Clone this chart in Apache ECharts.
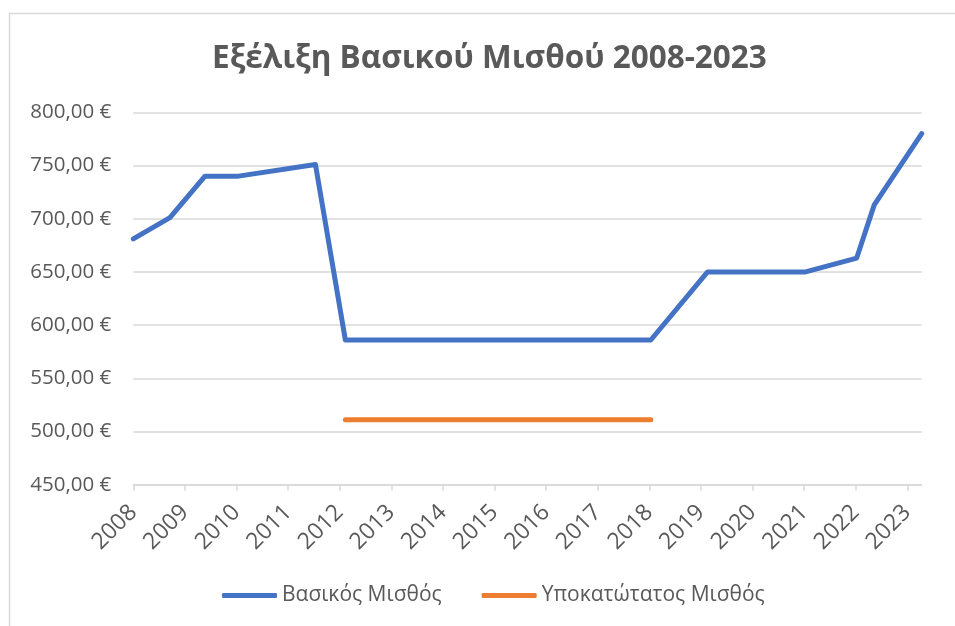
<!DOCTYPE html>
<html>
<head>
<meta charset="utf-8">
<script src="https://cdn.jsdelivr.net/npm/echarts@6/dist/echarts.min.js"></script>
<style>
html,body{margin:0;padding:0;background:#fff;}
#chart{width:955px;height:626px;}
</style>
</head>
<body>
<div id="chart"></div>
<script>
// Dates as fractional years
const basicYears  = [2008.0, 2008.71, 2009.39, 2010.04, 2011.53, 2012.11, 2018.03, 2019.13, 2021.03, 2022.02, 2022.36, 2023.28];
const basicValues = [681, 701, 740, 740, 751, 586, 586, 650, 650, 663, 713, 780];
const subYears    = [2012.11, 2018.03];
const subValues   = [511, 511];
const xTickYears  = [2008, 2009, 2010, 2011, 2012, 2013, 2014, 2015, 2016, 2017, 2018, 2019, 2020, 2021, 2022, 2023];
const yTicks      = [450, 500, 550, 600, 650, 700, 750, 800];
const seriesNames = ['Βασικός Μισθός', 'Υποκατώτατος Μισθός'];
const titleText   = 'Εξέλιξη Βασικού Μισθού 2008-2023';

const FONT = '"Open Sans", "Noto Sans", sans-serif';
const GREY = '#595959';

const chart = echarts.init(document.getElementById('chart'), null, {renderer: 'canvas'});
chart.setOption({
  animation: false,
  backgroundColor: '#ffffff',
  graphic: [{
    type: 'rect',
    shape: {x: 9.5, y: 13.5, width: 1000, height: 700},
    style: {fill: 'none', stroke: '#d9d9d9', lineWidth: 1.5},
    silent: true, z: -1
  }],
  title: {
    text: titleText,
    left: 207,
    top: 38,
    textStyle: {fontFamily: FONT, fontWeight: 'bold', fontSize: 31.5, color: GREY}
  },
  legend: {
    bottom: 15,
    left: 217,
    itemWidth: 55,
    itemHeight: 5,
    itemGap: 40,
    icon: 'roundRect',
    textStyle: {fontFamily: FONT, fontSize: 21, color: GREY},
    data: seriesNames
  },
  grid: {left: 133.3, right: 33.3, top: 112.3, bottom: 141.3, containLabel: false},
  xAxis: {
    type: 'value',
    min: xTickYears[0],
    max: basicYears[basicYears.length - 1],
    interval: 1,
    splitLine: {show: false},
    axisLine: {lineStyle: {color: '#d9d9d9', width: 1.5}},
    axisTick: {show: true, length: 6, lineStyle: {color: '#d9d9d9', width: 1.5},
      customValues: xTickYears},
    axisLabel: {
      rotate: 45, margin: 24,
      fontFamily: FONT, fontSize: 23, color: GREY,
      customValues: xTickYears,
      hideOverlap: false,
      formatter: v => Number.isInteger(v) ? String(v) : ''
    }
  },
  yAxis: {
    type: 'value',
    min: yTicks[0],
    max: yTicks[yTicks.length - 1],
    interval: 50,
    axisLine: {show: false},
    axisTick: {show: false},
    splitLine: {lineStyle: {color: '#d9d9d9', width: 1.5}},
    axisLabel: {
      margin: 22,
      fontFamily: FONT, fontSize: 20.5, color: GREY,
      formatter: v => v.toFixed(2).replace('.', ',') + ' €'
    }
  },
  series: [
    {
      name: seriesNames[0],
      type: 'line',
      symbol: 'none',
      data: basicYears.map((x, i) => [x, basicValues[i]]),
      lineStyle: {color: '#4472C4', width: 5, cap: 'round', join: 'round'},
      itemStyle: {color: '#4472C4'}
    },
    {
      name: seriesNames[1],
      type: 'line',
      symbol: 'none',
      data: subYears.map((x, i) => [x, subValues[i]]),
      lineStyle: {color: '#ED7D31', width: 5, cap: 'round', join: 'round'},
      itemStyle: {color: '#ED7D31'}
    }
  ]
});
</script>
</body>
</html>
